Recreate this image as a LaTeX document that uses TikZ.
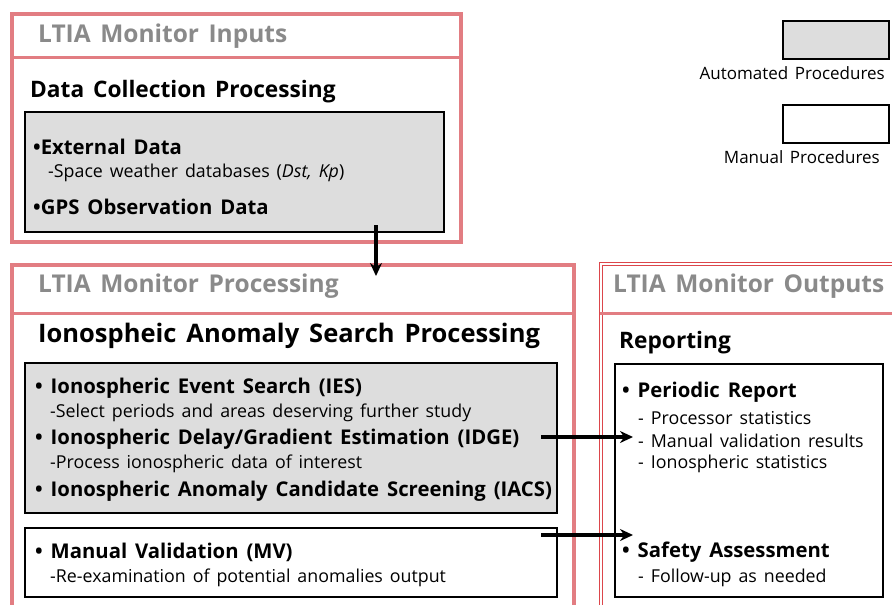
\documentclass[tikz,border=0pt]{standalone}
\usepackage{fontspec}
\setmainfont{Open Sans}[WordSpace=1.5]
\usetikzlibrary{arrows.meta}
\definecolor{redl}{RGB}{226,125,130}
\definecolor{redd}{RGB}{220,70,75}
\definecolor{boxgray}{RGB}{221,221,221}
\definecolor{titlegray}{RGB}{138,138,138}
\begin{document}
\begin{tikzpicture}[x=1pt,y=-1pt,
  redframe/.style={draw=redl, line width=3.5pt, inner sep=0pt, anchor=north west},
  redframe2/.style={draw=redd, line width=1pt, double=white, double distance=2pt, inner sep=0pt, anchor=north west},
  autobox/.style={draw=black, line width=2.2pt, fill=boxgray, inner sep=0pt, anchor=north west},
  manbox/.style={draw=black, line width=2.2pt, fill=white, inner sep=0pt, anchor=north west},
  ttl/.style={anchor=west, inner sep=0pt, text=titlegray, font=\fontsize{24.5}{28}\selectfont\bfseries},
  hdr/.style={anchor=west, inner sep=0pt, font=\fontsize{22.7}{26}\selectfont\bfseries},
  bhdr/.style={anchor=west, inner sep=0pt, font=\fontsize{25.5}{30}\selectfont\bfseries},
  item/.style={anchor=west, inner sep=0pt, font=\fontsize{20.3}{24}\selectfont\bfseries},
  sub/.style={anchor=west, inner sep=0pt, font=\fontsize{17.8}{21}\selectfont},
  lgd/.style={anchor=east, inner sep=0pt, font=\fontsize{17}{20}\selectfont},
  arr/.style={line width=3.5pt, -{Stealth[length=13pt,width=12pt]}}
]
\useasboundingbox (0,0) rectangle (892,605);
% ---------- Inputs ----------
\node[redframe, minimum width=449pt, minimum height=228pt] (inframe) at (10,12) {};
\draw[redl, line width=3pt] (10,57) -- (459,57);
\node[ttl] (intitle) at (38,36) {LTIA Monitor Inputs};
\node[hdr] (dchdr) at (30,92) {Data Collection Processing};
\node[autobox, minimum width=419pt, minimum height=120pt] (dcbox) at (24,111) {};
\node[item] (ext) at (33,147) {\textbullet External Data};
\node[sub] (extsub) at (48,173) {-Space weather databases (\textit{Dst, Kp})};
\node[item] (gps) at (33,207) {\textbullet GPS Observation Data};
% ---------- Processing ----------
\node[redframe, minimum width=562pt, minimum height=360pt] (procframe) at (10,263) {};
\draw[redl, line width=3pt] (10,313) -- (572,313);
\node[ttl] (proctitle) at (38,286) {LTIA Monitor Processing};
\node[bhdr] (iashdr) at (38,336) {Ionospheic Anomaly Search Processing};
\node[autobox, minimum width=532pt, minimum height=150pt] (iasbox) at (24,362) {};
\node[item] (ies) at (35,388) {\textbullet\ Ionospheric Event Search (IES)};
\node[sub] (iessub) at (50,413) {-Select periods and areas deserving further study};
\node[item] (idge) at (35,439) {\textbullet\ Ionospheric Delay/Gradient Estimation (IDGE)};
\node[sub] (idgesub) at (50,464) {-Process ionospheric data of interest};
\node[item] (iacs) at (35,491) {\textbullet\ Ionospheric Anomaly Candidate Screening (IACS)};
\node[manbox, minimum width=532pt, minimum height=69pt] (mvbox) at (24,527) {};
\node[item] (mv) at (35,552) {\textbullet\ Manual Validation (MV)};
\node[sub] (mvsub) at (50,578) {-Re-examination of potential anomalies output};
% ---------- Outputs ----------
\node[redframe2, minimum width=300pt, minimum height=360pt] (outframe) at (600,263) {};
\draw[redl, line width=3pt] (600,313) -- (900,313);
\node[ttl] (outtitle) at (613,286) {LTIA Monitor Outputs};
\node[hdr] (rephdr) at (619,343) {Reporting};
\node[manbox, minimum width=268pt, minimum height=233pt] (repbox) at (614,363) {};
\node[item] (per) at (622,392) {\textbullet\ Periodic Report};
\node[sub] (per1) at (638,418) {- Processor statistics};
\node[sub] (per2) at (638,441) {- Manual validation results};
\node[sub] (per3) at (638,464) {- Ionospheric statistics};
\node[item] (saf) at (622,552) {\textbullet\ Safety Assessment};
\node[sub] (saf1) at (638,578) {- Follow-up as needed};
% ---------- Legend ----------
\node[autobox, minimum width=106pt, minimum height=38pt] (lgauto) at (782,20) {};
\node[lgd] (lgautot) at (885,73) {Automated Procedures};
\node[manbox, minimum width=106pt, minimum height=38pt] (lgman) at (782,104) {};
\node[lgd] (lgmant) at (880,157) {Manual Procedures};
% ---------- Arrows ----------
\coordinate (a1s) at (376,225);
\coordinate (a1e) at (376,276);
\draw[arr] (a1s) -- (a1e);
\coordinate (a2s) at (541,437);
\coordinate (a2e) at (633,437);
\draw[arr] (a2s) -- (a2e);
\coordinate (a3s) at (541,535);
\coordinate (a3e) at (633,535);
\draw[arr] (a3s) -- (a3e);
\end{tikzpicture}
\end{document}
